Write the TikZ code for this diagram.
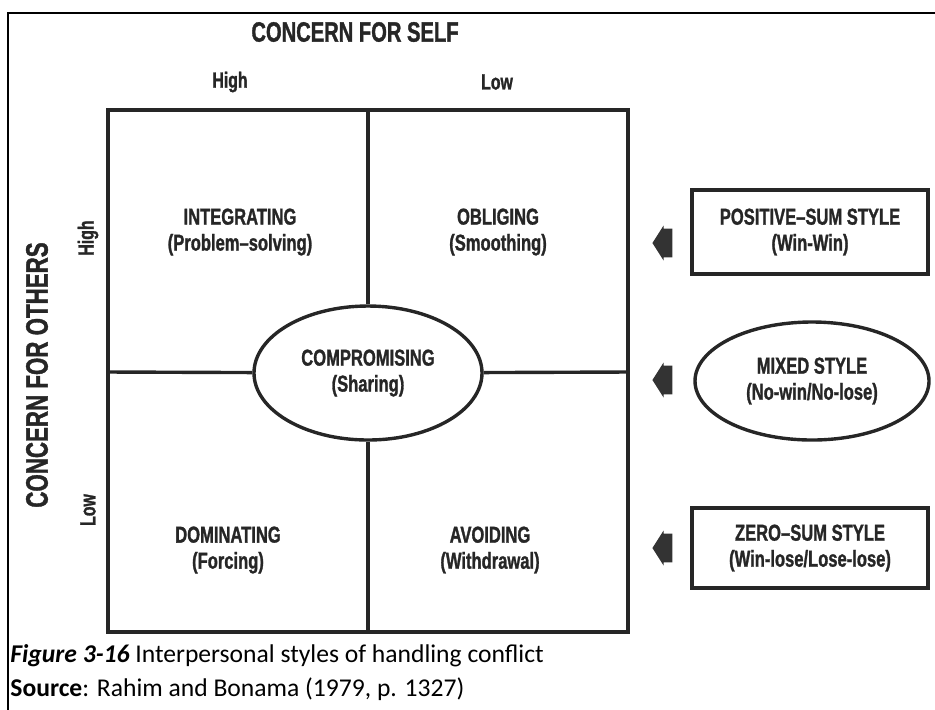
\documentclass[tikz,border=0pt]{standalone}
\usepackage{fontspec}
\setmainfont{Carlito}
\newfontfamily\gridfont[FakeStretch=0.72,FakeBold=1.2]{Liberation Sans}
\usetikzlibrary{shapes.geometric,shapes.arrows}

\begin{document}
\begin{tikzpicture}[x=0.5pt,y=-0.5pt,
  grid line/.style={line width=1.7pt,draw=black!85},
  axis text/.style={font=\gridfont\bfseries\fontsize{14}{16}\selectfont,text=black!85},
  side text/.style={font=\gridfont\bfseries\fontsize{11}{13}\selectfont,text=black!85},
  cell text/.style={font=\gridfont\bfseries\fontsize{11.5}{13}\selectfont,text=black!85,align=center},
  style box/.style={draw,grid line,cell text,minimum width=118pt,minimum height=42pt},
  style oval/.style={ellipse,draw,grid line,fill=white,cell text,inner sep=0pt},
  pointer/.style={single arrow,fill=black!80,draw=none,shape border rotate=180,
    minimum height=10pt,inner xsep=0pt,inner ysep=7pt,
    single arrow head extend=1.5pt,single arrow tip angle=115}]

\useasboundingbox (0,0) rectangle (935,709);

% frame
\draw[line width=1.3pt] (8,712) -- (8,13) -- (938,13);

% axis labels
\node[axis text] (self) at (355,32) {CONCERN FOR SELF};
\node[side text] (self high) at (230,82) {High};
\node[side text] (self low) at (497,82) {Low};

\node[axis text,font=\gridfont\bfseries\fontsize{15.5}{18}\selectfont,rotate=90] (others) at (37,375) {CONCERN FOR OTHERS};
\node[side text,rotate=90] (others high) at (88,238) {High};
\node[side text,rotate=90] (others low) at (88,510) {Low};

% grid
\coordinate (nw) at (108,110);
\coordinate (se) at (628,632);
\coordinate (top mid) at (368,110);
\coordinate (bottom mid) at (368,632);
\coordinate (left mid) at (108,372);
\coordinate (right mid) at (628,372);

\draw[grid line] (nw) rectangle (se);

\node[style oval,minimum width=114pt,minimum height=67pt] (compromising) at (368,373) {COMPROMISING\\(Sharing)};

\draw[grid line] (top mid) -- (compromising);
\draw[grid line] (bottom mid) -- (compromising);
\draw[grid line] (left mid) -- (compromising);
\draw[grid line] (right mid) -- (compromising);

\node[cell text] (integrating) at (240,232) {INTEGRATING\\(Problem\textendash solving)};
\node[cell text] (obliging) at (498,232) {OBLIGING\\(Smoothing)};
\node[cell text] (dominating) at (228,550) {DOMINATING\\(Forcing)};
\node[cell text] (avoiding) at (490,550) {AVOIDING\\(Withdrawal)};

% styles on the right
\node[style box] (positive) at (810,232) {POSITIVE\textendash SUM STYLE\\(Win-Win)};
\node[style oval,minimum width=117pt,minimum height=59pt] (mixed) at (812,381) {MIXED STYLE\\(No-win/No-lose)};
\node[style box,minimum height=40pt] (zero) at (810,548) {ZERO\textendash SUM STYLE\\(Win-lose/Lose-lose)};

\node[pointer] (positive arrow) at (667,243) {};
\node[pointer] (mixed arrow) at (667,380) {};
\node[pointer] (zero arrow) at (667,548) {};

% caption
\node[anchor=base west,inner sep=0pt,font=\fontsize{12.8}{15}\selectfont] (caption) at (10,662) {\textbf{\textit{Figure 3-16}} Interpersonal styles of handling conflict};
\node[anchor=base west,inner sep=0pt,font=\fontsize{12.8}{15}\selectfont] (source) at (10,696) {\textbf{Source}: Rahim and Bonama (1979, p. 1327)};

\end{tikzpicture}
\end{document}
